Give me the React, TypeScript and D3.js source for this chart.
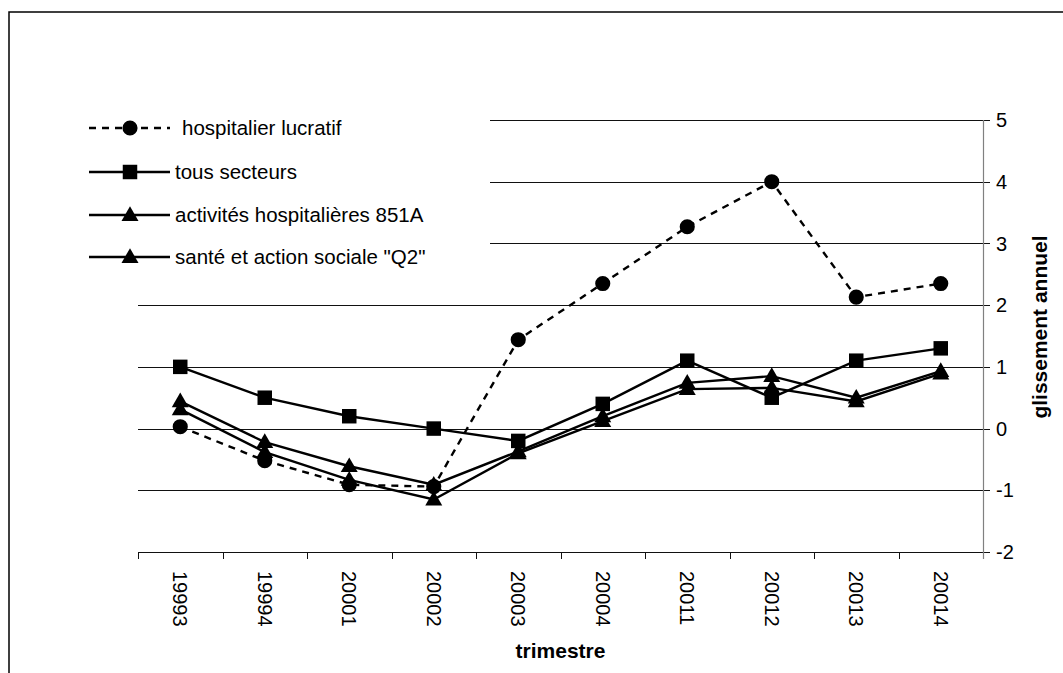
import React from "react";
import * as d3 from "d3";

const categories = ["19993", "19994", "20001", "20002", "20003", "20004", "20011", "20012", "20013", "20014"];
const hospLucratif = [0.03, -0.52, -0.91, -0.94, 1.44, 2.35, 3.27, 4.0, 2.13, 2.35];
const tousSecteurs = [1.0, 0.5, 0.2, 0.0, -0.2, 0.4, 1.1, 0.5, 1.1, 1.3];
const activites851A = [0.44, -0.22, -0.61, -0.91, -0.37, 0.2, 0.74, 0.85, 0.5, 0.93];
const santeQ2 = [0.31, -0.38, -0.83, -1.15, -0.4, 0.12, 0.64, 0.66, 0.44, 0.89];
const yTicks = [-2, -1, 0, 1, 2, 3, 4, 5];

const seriesNames = ["hospitalier lucratif", "tous secteurs", "activités hospitalières 851A", 'santé et action sociale "Q2"'];
const seriesValues = [hospLucratif, tousSecteurs, activites851A, santeQ2];
const seriesSymbols = [d3.symbolCircle, d3.symbolSquare, d3.symbolTriangle, d3.symbolTriangle];
const seriesSizes = [180, 210, 125, 125];
const seriesDash = ["7,6", null, null, null];

const FONT = "'Liberation Sans', Arial, sans-serif";

export default function App() {
  const W = 1063, H = 673;
  const left = 138, right = 983, top = 120, bottom = 552;
  const x = d3.scaleBand<string>().domain(categories).range([left, right]);
  const cx = (c: string) => (x(c) as number) + x.bandwidth() / 2;
  const y = d3.scaleLinear().domain([-2, 5]).range([bottom, top]);
  const line = d3.line<[string, number]>().x((d) => cx(d[0])).y((d) => y(d[1]));

  const legendY = [128, 172, 215, 257];
  const legendTextX = [182, 175, 175, 175];

  return (
    <svg width={W} height={H} style={{ position: "absolute", left: 0, top: 0, background: "#fff" }} fontFamily={FONT}>
      <rect x={0} y={0} width={W} height={H} fill="#fff" />
      {/* frame */}
      <rect x={9} y={12} width={1200} height={900} fill="none" stroke="#000" strokeWidth={1.5} />
      {/* gridlines */}
      {yTicks.map((t) => (
        <line key={"g" + t} x1={left} x2={right + 7} y1={Math.round(y(t)) + 0.5} y2={Math.round(y(t)) + 0.5} stroke="#111" strokeWidth={1} />
      ))}
      {/* x axis ticks */}
      {[...categories.map((c) => x(c) as number), right].map((v, i) => (
        <line key={"xt" + i} x1={Math.round(v) + 0.5} x2={Math.round(v) + 0.5} y1={bottom} y2={bottom + 7} stroke="#111" strokeWidth={1} />
      ))}
      {/* right axis */}
      <line x1={right + 0.5} x2={right + 0.5} y1={top} y2={bottom + 7} stroke="#808080" strokeWidth={1.2} />
      {yTicks.map((t) => (
        <text key={"yl" + t} x={996} y={y(t)} dy="0.36em" fontSize={20} fill="#000">
          {t}
        </text>
      ))}
      {categories.map((c) => (
        <text key={"xl" + c} transform={`translate(${cx(c)},${571}) rotate(90)`} dy="0.36em" fontSize={20} fill="#000">
          {c}
        </text>
      ))}
      <text x={(left + right) / 2} y={658} textAnchor="middle" fontSize={21} fontWeight="bold">
        trimestre
      </text>
      <text transform={`translate(1047,327) rotate(-90)`} textAnchor="middle" fontSize={21} fontWeight="bold">
        glissement annuel
      </text>
      {/* legend background */}
      <rect x={20} y={100} width={470} height={185} fill="#fff" />
      {/* series */}
      {seriesValues.map((vals, si) => {
        const pts = categories.map((c, i) => [c, vals[i]] as [string, number]);
        const sym = d3.symbol(seriesSymbols[si], seriesSizes[si])();
        return (
          <g key={"s" + si}>
            <path d={line(pts) || ""} fill="none" stroke="#000" strokeWidth={2.4} strokeDasharray={seriesDash[si] || undefined} />
            {pts.map((p, i) => (
              <path key={i} d={sym || ""} transform={`translate(${cx(p[0])},${y(p[1]) + (seriesSymbols[si] === d3.symbolTriangle ? 1 : 0)})`} fill="#000" />
            ))}
          </g>
        );
      })}
      {/* legend */}
      {seriesNames.map((n, si) => {
        const sym = d3.symbol(seriesSymbols[si], seriesSizes[si])();
        const ly = legendY[si];
        return (
          <g key={"l" + si}>
            <line x1={89} x2={170} y1={ly} y2={ly} stroke="#000" strokeWidth={2.4} strokeDasharray={seriesDash[si] || undefined} />
            <path d={sym || ""} transform={`translate(130,${ly + (seriesSymbols[si] === d3.symbolTriangle ? 1 : 0)})`} fill="#000" />
            <text x={legendTextX[si]} y={ly} dy="0.36em" fontSize={20.5} fill="#000">
              {n}
            </text>
          </g>
        );
      })}
    </svg>
  );
}
